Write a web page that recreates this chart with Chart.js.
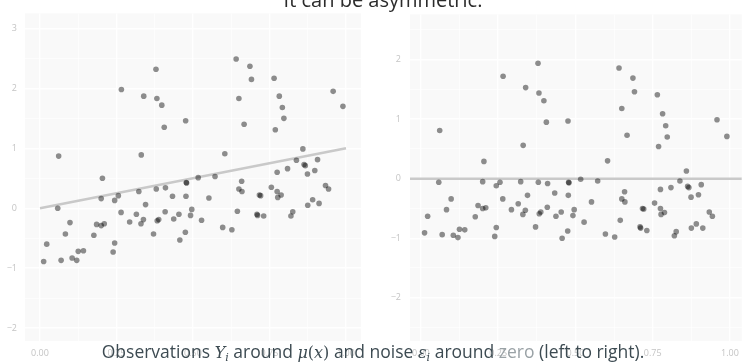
<!DOCTYPE html>
<html>
<head>
<meta charset="utf-8">
<script src="https://cdn.jsdelivr.net/npm/chart.js@4.4.1/dist/chart.umd.min.js"></script>
<style>
  body { margin: 0; background: #fff; width: 746px; height: 362px; overflow: hidden; position: relative; font-family: "Open Sans", sans-serif; }
  canvas { position: absolute; top: 0; }
  #left { left: 0; }
  #right { left: 373px; }
  #titre { position: absolute; left: 0; width: 766px; text-align: center; top: -10px; font-size: 20px; line-height: 20px; color: #2b2b2b; white-space: nowrap; }
  #caption { position: absolute; left: 0; width: 746px; top: 341px; text-align: center; font-size: 17.5px; line-height: 20px; color: #3d4b52; white-space: nowrap; }
  .m { font-family: "DejaVu Serif", serif; font-style: italic; font-size: 16px; }
  .m .up { font-style: normal; }
  .m sub { font-size: 11px; vertical-align: baseline; position: relative; top: 3px; }
  .zero { color: #9aa2a6; }
</style>
</head>
<body>
<canvas id="left" width="373" height="362"></canvas>
<canvas id="right" width="373" height="362"></canvas>
<div id="titre">It can be asymmetric.</div>
<div id="caption">Observations <span class="m">Y<sub>i</sub></span> around <span class="m">μ<span class="up">(</span>x<span class="up">)</span></span> and noise <span class="m">ε<sub>i</sub></span> around <span class="zero">zero</span> (left to right).</div>

<script>
// x des observations (communs aux deux panneaux)
const xs = [0.012,0.022,0.058,0.061,0.069,0.083,0.098,0.105,0.120,0.125,
  0.142,0.176,0.185,0.200,0.200,0.204,0.210,0.239,0.244,0.244,
  0.256,0.265,0.266,0.293,0.315,0.323,0.330,0.331,0.338,0.339,
  0.345,0.371,0.379,0.380,0.382,0.383,0.388,0.398,0.406,0.409,
  0.410,0.433,0.437,0.454,0.457,0.475,0.476,0.477,0.478,0.479,
  0.492,0.496,0.517,0.528,0.552,0.572,0.597,0.604,0.627,0.641,
  0.645,0.650,0.650,0.659,0.660,0.667,0.686,0.691,0.709,0.711,
  0.717,0.721,0.731,0.756,0.765,0.769,0.775,0.775,0.777,0.782,
  0.788,0.792,0.797,0.809,0.820,0.826,0.838,0.859,0.863,0.867,
  0.874,0.875,0.891,0.898,0.907,0.912,0.933,0.943,0.958,0.990];

// Y_i (panneau gauche)
const ys = [-0.89,-0.60,0.00,0.87,-0.87,-0.43,-0.24,-0.83,-0.87,-0.72,
  -0.71,-0.45,-0.27,0.16,-0.29,0.50,-0.26,-0.73,0.13,-0.58,
  0.21,-0.07,1.98,-0.23,-0.10,0.28,-0.26,0.89,-0.19,1.87,
  0.06,-0.43,2.32,0.32,1.83,-0.21,-0.19,1.72,1.35,-0.06,
  0.34,0.20,-0.18,-0.10,-0.53,-0.40,1.46,0.20,0.43,0.42,
  -0.12,-0.02,0.51,-0.20,0.17,0.53,-0.32,0.91,-0.36,2.49,
  -0.05,1.83,0.32,0.45,0.28,1.40,2.37,2.15,-0.10,-0.12,
  0.22,0.21,-0.13,0.35,2.17,1.31,0.60,0.28,0.18,1.87,
  0.22,1.68,1.50,0.66,-0.13,-0.06,0.80,0.99,0.73,0.71,
  0.57,0.05,0.14,0.63,0.81,0.08,0.38,0.32,1.95,1.70];

// bruit eps_i (panneau droit)
const eps = [-0.91,-0.63,-0.06,0.81,-0.94,-0.52,-0.34,-0.95,-0.99,-0.85,
  -0.86,-0.64,-0.45,-0.05,-0.50,0.29,-0.49,-0.97,-0.12,-0.82,
  -0.06,-0.34,1.72,-0.52,-0.42,-0.05,-0.60,0.56,-0.53,1.53,
  -0.28,-0.81,1.94,-0.06,1.44,-0.59,-0.56,1.31,0.95,-0.48,
  -0.08,-0.24,-0.63,-0.56,-1.00,-0.88,0.97,-0.28,-0.06,-0.07,
  -0.62,-0.52,-0.01,-0.73,-0.39,-0.04,-0.93,0.30,-0.98,1.86,
  -0.70,1.18,-0.34,-0.22,-0.39,0.73,1.69,1.46,-0.81,-0.83,
  -0.50,-0.51,-0.87,-0.41,1.41,0.54,-0.18,-0.50,-0.60,1.09,
  -0.57,0.89,0.70,-0.15,-0.96,-0.89,-0.04,0.13,-0.13,-0.15,
  -0.31,-0.83,-0.76,-0.27,-0.10,-0.83,-0.56,-0.63,0.99,0.71];

// mu(x) = x, de 0 a 1
const muX = [0, 1];
const muY = [0, 1];

const xTicks = [0, 0.125, 0.25, 0.375, 0.5, 0.625, 0.75, 0.875, 1];
const yTicksLeft = [-2, -1.5, -1, -0.5, 0, 0.5, 1, 1.5, 2, 2.5, 3];
const yTicksRight = [-2.5, -2, -1.5, -1, -0.5, 0, 0.5, 1, 1.5, 2, 2.5];

const fond = {
  id: "fond",
  beforeDraw(chart) {
    const a = chart.chartArea;
    const ctx = chart.ctx;
    ctx.save();
    ctx.fillStyle = "#f9f9f9";
    ctx.fillRect(a.left, a.top, a.right - a.left, a.bottom - a.top);
    ctx.restore();
  }
};

function estMajeur(v, pas) {
  return Math.abs(v / pas - Math.round(v / pas)) < 1e-6;
}

function axes(xmin, xmax, ymin, ymax, yTicks, largeurY, padY) {
  const police = { family: "Open Sans", size: 9 };
  return {
    x: {
      type: "linear", min: xmin, max: xmax,
      afterBuildTicks: s => { s.ticks = xTicks.map(v => ({ value: v })); },
      afterFit: s => { s.height = 21; },
      border: { display: false },
      grid: {
        color: "#ffffff", drawTicks: false,
        lineWidth: c => estMajeur(c.tick.value, 0.25) ? 1.4 : 0.7
      },
      ticks: {
        padding: 7, color: "#c4c4c4", font: police, maxRotation: 0, autoSkip: false,
        callback: v => estMajeur(v, 0.25) ? v.toFixed(2) : ""
      }
    },
    y: {
      type: "linear", min: ymin, max: ymax,
      afterBuildTicks: s => { s.ticks = yTicks.map(v => ({ value: v })); },
      afterFit: s => { s.width = largeurY; },
      border: { display: false },
      grid: {
        color: "#ffffff", drawTicks: false,
        lineWidth: c => estMajeur(c.tick.value, 1) ? 1.4 : 0.7
      },
      ticks: {
        padding: padY, color: "#c4c4c4", font: police, autoSkip: false,
        callback: v => estMajeur(v, 1) ? String(Math.round(v)).replace("-", "\u2212") : ""
      }
    }
  };
}

const styleNuage = {
  pointRadius: 2.8,
  pointHoverRadius: 2.8,
  pointBackgroundColor: "rgba(0,0,0,0.44)",
  pointBorderWidth: 0,
  order: 1
};

const optsCommunes = {
  responsive: false,
  animation: false,
  events: [],
  plugins: { legend: { display: false }, tooltip: { enabled: false } }
};

// panneau gauche : Y_i autour de mu(x)
new Chart(document.getElementById("left"), {
  type: "scatter",
  data: {
    datasets: [
      { data: xs.map((x, i) => ({ x: x, y: ys[i] })), ...styleNuage },
      {
        type: "line", data: muX.map((x, i) => ({ x: x, y: muY[i] })),
        borderColor: "#c9c9c9", borderWidth: 2.6, pointRadius: 0, order: 2
      }
    ]
  },
  options: {
    ...optsCommunes,
    layout: { padding: { top: 3, right: 12, left: 0, bottom: 0 } },
    scales: axes(-0.049, 1.049, -2.216, 3.251, yTicksLeft, 25, 8)
  },
  plugins: [fond]
});

// panneau droit : eps_i autour de zero
const xminD = -0.0351, xmaxD = 1.0383;
new Chart(document.getElementById("right"), {
  type: "scatter",
  data: {
    datasets: [
      { data: xs.map((x, i) => ({ x: x, y: eps[i] })), ...styleNuage },
      {
        type: "line", data: [{ x: xminD, y: 0 }, { x: xmaxD, y: 0 }],
        borderColor: "#c9c9c9", borderWidth: 2.6, pointRadius: 0, order: 2
      }
    ]
  },
  options: {
    ...optsCommunes,
    layout: { padding: { top: 3, right: 0, left: 0, bottom: 0 } },
    scales: axes(xminD, xmaxD, -2.727, 2.760, yTicksRight, 37, 9)
  },
  plugins: [fond]
});
</script>
</body>
</html>
